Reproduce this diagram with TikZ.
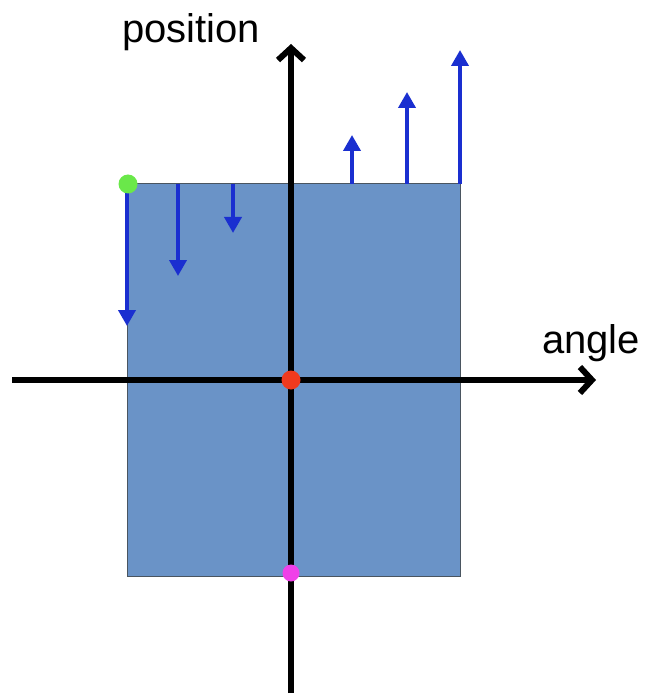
\documentclass[tikz,border=0pt]{standalone}
\usepackage{fontspec}
\setmainfont{Liberation Sans}
\usetikzlibrary{arrows.meta}
\definecolor{boxfill}{HTML}{6A93C7}
\definecolor{boxline}{HTML}{4A5560}
\definecolor{vecblue}{HTML}{1A2FD0}
\definecolor{dotred}{HTML}{F03A1E}
\definecolor{dotmag}{HTML}{F040E8}
\definecolor{dotgreen}{HTML}{6AE84A}
\tikzset{
  axis/.style={line width=6pt, black, -{Straight Barb[length=12pt,width=26pt,line width=6pt]}},
  vec/.style={line width=3.8pt, vecblue, -{Triangle[length=16pt,width=17pt]}},
  dot/.style={circle, inner sep=0pt, minimum size=19pt},
  lbl/.style={font=\fontsize{40}{42}\selectfont, inner sep=0pt, anchor=base west}
}
\begin{document}
\begin{tikzpicture}[x=1pt,y=-1pt]
\useasboundingbox (0,0) rectangle (648,700);
\filldraw[fill=boxfill, draw=boxline, line width=1pt] (127,184) rectangle (460,576);
% blue vectors
\coordinate (d1s) at (127,184); \coordinate (d1e) at (127,326);
\coordinate (d2s) at (178,184); \coordinate (d2e) at (178,276);
\coordinate (d3s) at (233,184); \coordinate (d3e) at (233,233);
\coordinate (u1s) at (352,184); \coordinate (u1e) at (352,135);
\coordinate (u2s) at (407,184); \coordinate (u2e) at (407,92);
\coordinate (u3s) at (460,184); \coordinate (u3e) at (460,50);
\draw[vec] (d1s) -- (d1e);
\draw[vec] (d2s) -- (d2e);
\draw[vec] (d3s) -- (d3e);
\draw[vec] (u1s) -- (u1e);
\draw[vec] (u2s) -- (u2e);
\draw[vec] (u3s) -- (u3e);
% axes
\coordinate (xl) at (12,380); \coordinate (xr) at (596,380);
\coordinate (yb) at (291,693); \coordinate (yt) at (291,44);
\draw[axis] (xl) -- (xr);
\draw[axis] (yb) -- (yt);
% dots
\node[dot, fill=dotred] (origin) at (291,380) {};
\node[dot, fill=dotmag, minimum size=17pt] (bottom) at (291,573) {};
\node[dot, fill=dotgreen] (corner) at (128,184) {};
% labels
\node[lbl] (poslbl) at (122,43) {position};
\node[lbl] (anglbl) at (542,353) {angle};
\end{tikzpicture}
\end{document}
